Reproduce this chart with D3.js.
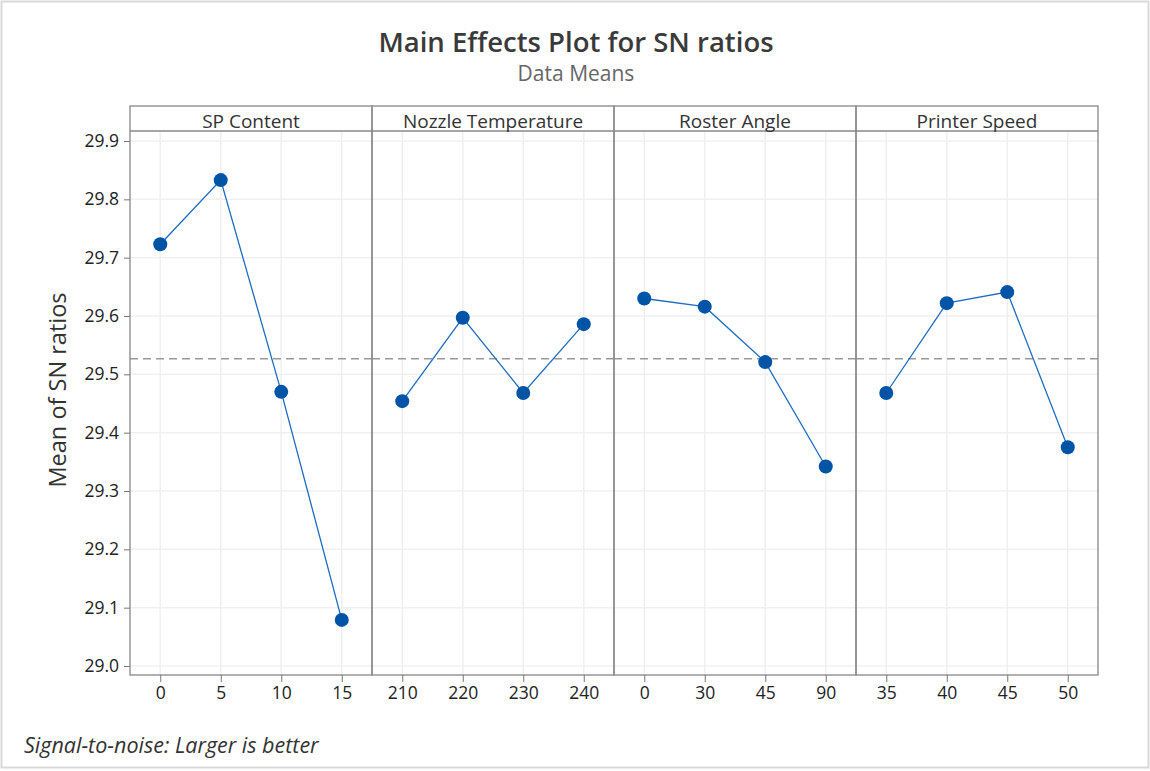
<!DOCTYPE html>
<html>
<head>
<meta charset="utf-8">
<script src="https://cdn.jsdelivr.net/npm/d3@7"></script>
<style>
  body { margin: 0; background: #fff; }
  text { font-family: "Open Sans", "Noto Sans", sans-serif; fill: #333; }
</style>
</head>
<body>
<div id="chart"></div>
<script>
// factors and their levels
var factors = ["SP Content", "Nozzle Temperature", "Roster Angle", "Printer Speed"];
var levels = [
    ["0", "5", "10", "15"],
    ["210", "220", "230", "240"],
    ["0", "30", "45", "90"],
    ["35", "40", "45", "50"]
];
var means = [
    [29.723, 29.833, 29.470, 29.079],
    [29.454, 29.597, 29.468, 29.586],
    [29.630, 29.616, 29.521, 29.342],
    [29.468, 29.622, 29.641, 29.375]
];
var yTicks = [29.0, 29.1, 29.2, 29.3, 29.4, 29.5, 29.6, 29.7, 29.8, 29.9];
var grandMean = d3.mean(d3.merge(means));

var W = 1150, H = 771;
var plotLeft = 130, plotRight = 1098, stripTop = 106, plotTop = 131, plotBottom = 675;
var panelW = (plotRight - plotLeft) / factors.length;

var svg = d3.select("#chart").append("svg")
    .attr("width", W)
    .attr("height", H);

// outer frame
svg.append("rect")
    .attr("x", 1.5).attr("y", 1.5)
    .attr("width", W - 3).attr("height", H - 5)
    .attr("fill", "none")
    .attr("stroke", "#d9d9d9")
    .attr("stroke-width", 2);

svg.append("text")
    .attr("x", 576).attr("y", 52)
    .attr("text-anchor", "middle")
    .style("font-size", "27.5px")
    .style("font-weight", 600)
    .style("fill", "#3a3a3a")
    .text("Main Effects Plot for SN ratios");

svg.append("text")
    .attr("x", 576).attr("y", 81)
    .attr("text-anchor", "middle")
    .style("font-size", "21px")
    .style("fill", "#666")
    .text("Data Means");

var y = d3.scaleLinear()
    .domain([29.0, 29.9])
    .range([666, 141]);

// y gridlines over the full width
svg.append("g")
    .selectAll("line")
    .data(yTicks)
    .enter().append("line")
    .attr("x1", plotLeft).attr("x2", plotRight)
    .attr("y1", function(d) { return y(d); })
    .attr("y2", function(d) { return y(d); })
    .attr("stroke", "#f0f0f0")
    .attr("stroke-width", 1.5);

var yAxis = d3.axisLeft(y)
    .tickValues(yTicks)
    .tickSize(6)
    .tickFormat(d3.format(".1f"));

var yg = svg.append("g")
    .attr("transform", "translate(" + plotLeft + ",0)")
    .call(yAxis);
yg.select(".domain").remove();
yg.selectAll(".tick line").attr("stroke", "#777");
yg.selectAll(".tick text")
    .style("font-size", "17.5px")
    .style("fill", "#222")
    .attr("x", -11);

svg.append("text")
    .attr("transform", "translate(66," + 390 + ") rotate(-90)")
    .attr("text-anchor", "middle")
    .style("font-size", "23.5px")
    .style("fill", "#333")
    .text("Mean of SN ratios");

var line = d3.line();

factors.forEach(function(f, i) {
    var x0 = plotLeft + i * panelW;
    var x = d3.scalePoint()
        .domain(levels[i])
        .range([x0, x0 + panelW])
        .padding(0.5);

    var g = svg.append("g");

    // vertical gridlines
    g.selectAll(".vgrid")
        .data(levels[i])
        .enter().append("line")
        .attr("x1", function(d) { return x(d); })
        .attr("x2", function(d) { return x(d); })
        .attr("y1", plotTop).attr("y2", plotBottom)
        .attr("stroke", "#f0f0f0")
        .attr("stroke-width", 1.5);

    // grand mean reference
    g.append("line")
        .attr("x1", x0).attr("x2", x0 + panelW)
        .attr("y1", y(grandMean)).attr("y2", y(grandMean))
        .attr("stroke", "#999")
        .attr("stroke-width", 1.5)
        .attr("stroke-dasharray", "8,5");

    var pts = levels[i].map(function(l, j) { return [x(l), y(means[i][j])]; });

    g.append("path")
        .attr("d", line(pts))
        .attr("fill", "none")
        .attr("stroke", "#1f6cc0")
        .attr("stroke-width", 1.3);

    g.selectAll("circle")
        .data(pts)
        .enter().append("circle")
        .attr("cx", function(d) { return d[0]; })
        .attr("cy", function(d) { return d[1]; })
        .attr("r", 7)
        .attr("fill", "#0054a6");

    // panel frame and strip
    g.append("rect")
        .attr("x", x0).attr("y", stripTop)
        .attr("width", panelW).attr("height", plotBottom - stripTop)
        .attr("fill", "none")
        .attr("stroke", "#888")
        .attr("stroke-width", 1.3);
    g.append("line")
        .attr("x1", x0).attr("x2", x0 + panelW)
        .attr("y1", plotTop).attr("y2", plotTop)
        .attr("stroke", "#888")
        .attr("stroke-width", 1.3);

    g.append("text")
        .attr("x", x0 + panelW / 2)
        .attr("y", plotTop - 3)
        .attr("text-anchor", "middle")
        .style("font-size", "19px")
        .style("fill", "#333")
        .text(f);

    var xAxis = d3.axisBottom(x).tickSize(7);
    var xg = g.append("g")
        .attr("transform", "translate(0," + plotBottom + ")")
        .call(xAxis);
    xg.select(".domain").remove();
    xg.selectAll(".tick line").attr("stroke", "#777");
    xg.selectAll(".tick text")
        .style("font-size", "17.5px")
        .style("fill", "#222")
        .attr("y", 12);
});

svg.append("text")
    .attr("x", 24).attr("y", 753)
    .style("font-size", "21.5px")
    .style("font-style", "italic")
    .style("fill", "#333")
    .text("Signal-to-noise: Larger is better");
</script>
</body>
</html>
